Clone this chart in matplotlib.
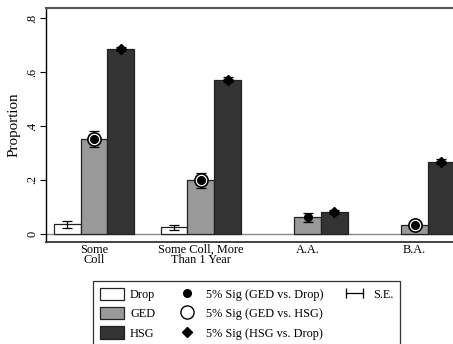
import matplotlib
matplotlib.use("Agg")
import matplotlib.pyplot as plt
import numpy as np
from matplotlib.patches import Patch
from matplotlib.lines import Line2D
from matplotlib.legend_handler import HandlerLine2D

plt.rcParams['font.family'] = ['Liberation Serif', 'DejaVu Serif']

groups = ["Some\nColl", "Some Coll, More\nThan 1 Year", "A.A.", "B.A."]

# proportions and standard errors by group
drop = [0.035, 0.024, 0.0, 0.0]
drop_se = [0.012, 0.009, 0.0, 0.0]
ged = [0.352, 0.199, 0.061, 0.033]
ged_se = [0.031, 0.027, 0.016, 0.006]
hsg = [0.686, 0.571, 0.081, 0.268]
hsg_se = [0.008, 0.009, 0.007, 0.008]

# significance flags
sig_ged_drop = [True, True, True, True]
sig_ged_hsg = [True, True, False, True]
sig_hsg_drop = [True, True, True, True]

c_drop, c_ged, c_hsg = "white", "#999999", "#333333"

fig = plt.figure(figsize=(4.53, 3.44), dpi=100)
ax = fig.add_axes([0.1015, 0.2965, 0.92, 0.68])

x = np.arange(len(groups))
w = 0.25

ax.axhline(0, color="#888888", lw=1.0, zorder=1)

for vals, se, col, off in [(drop, drop_se, c_drop, -w), (ged, ged_se, c_ged, 0), (hsg, hsg_se, c_hsg, w)]:
    v = np.array(vals)
    s = np.array(se)
    keep = v > 0
    ax.bar(x[keep] + off, v[keep], width=w, color=col, edgecolor="#222222", lw=0.9, zorder=2)
    ax.errorbar(x[keep] + off, v[keep], yerr=s[keep], fmt="none", ecolor="black",
                elinewidth=0.9, capsize=3.5, capthick=0.9, zorder=3)

for i in range(len(groups)):
    if sig_ged_hsg[i]:
        ax.plot(x[i], ged[i], "o", ms=9.5, mfc="white", mec="black", mew=1.2, zorder=4)
    if sig_ged_drop[i]:
        ax.plot(x[i], ged[i], "o", ms=5.5, color="black", zorder=5)
    if sig_hsg_drop[i]:
        ax.plot(x[i] + w, hsg[i], "D", ms=5.5, color="black", zorder=5)

ax.set_xlim(-0.448, 3.45)
ax.set_ylim(-0.03, 0.837)
ax.set_xticks(x)
ax.set_xticklabels(groups, fontsize=8.8, linespacing=0.8)
ax.tick_params(axis="x", length=0, pad=1.5)
ax.set_yticks([0, 0.2, 0.4, 0.6, 0.8])
ax.set_yticklabels(["0", ".2", ".4", ".6", ".8"], rotation=90, va="center", fontsize=8.8)
ax.tick_params(axis="y", length=4, width=0.8, pad=1.5)
ax.set_ylabel("Proportion", fontsize=10.8, labelpad=4)

ax.spines["right"].set_visible(False)
ax.spines["top"].set_color("#555555")
ax.spines["top"].set_linewidth(1.5)
ax.spines["left"].set_linewidth(1.0)
ax.spines["bottom"].set_linewidth(1.3)
ax.spines["bottom"].set_color("#333333")

blank = Line2D([], [], ls="none")
se_handle = Line2D([0, 1], [0, 0], color="black", lw=0.9, marker="|", ms=7, mew=0.9)
handles = [
    Patch(facecolor=c_drop, edgecolor="#222222", lw=0.9),
    Patch(facecolor=c_ged, edgecolor="#222222", lw=0.9),
    Patch(facecolor=c_hsg, edgecolor="#222222", lw=0.9),
    Line2D([], [], ls="none", marker="o", ms=5.5, color="black"),
    Line2D([], [], ls="none", marker="o", ms=9.5, mfc="white", mec="black", mew=1.0),
    Line2D([], [], ls="none", marker="D", ms=5.5, color="black"),
    se_handle, blank, blank,
]
labels = ["Drop", "GED", "HSG",
          "5% Sig (GED vs. Drop)", "5% Sig (GED vs. HSG)", "5% Sig (HSG vs. Drop)",
          "S.E.", "", ""]
leg = fig.legend(handles, labels, ncol=3, loc="upper left", bbox_to_anchor=(0.205, 0.183),
                 fontsize=8.8, frameon=True, fancybox=False, edgecolor="black",
                 handlelength=2.0, handleheight=1.15, labelspacing=0.5, columnspacing=1.6,
                 borderpad=0.55, handletextpad=0.5, borderaxespad=0,
                 handler_map={se_handle: HandlerLine2D(numpoints=2)})
leg.get_frame().set_linewidth(0.9)

fig.savefig("out.png", dpi=100)
